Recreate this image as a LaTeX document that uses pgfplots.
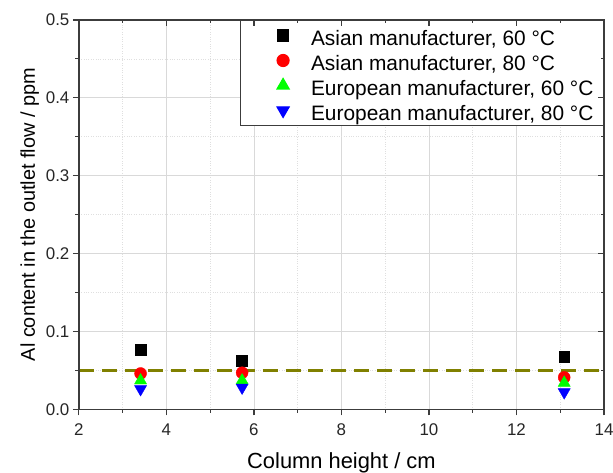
\documentclass[border=0pt]{standalone}
\usepackage{pgfplots}
\pgfplotsset{compat=1.18}
\usepackage{fontspec}
\setmainfont{Liberation Sans}
\usetikzlibrary{calc}
\definecolor{olivedash}{RGB}{128,128,0}
\definecolor{axisgray}{RGB}{60,60,60}
\pgfplotstableread{
x y
3.41 0.077
5.73 0.063
13.09 0.068
}\asiansixty
\pgfplotstableread{
x y
3.41 0.046
5.73 0.047
13.09 0.041
}\asianeighty
\pgfplotstableread{
x y
3.41 0.037
5.73 0.037
13.09 0.034
}\eurosixty
\pgfplotstableread{
x y
3.41 0.026
5.73 0.028
13.09 0.022
}\euroeighty
\begin{document}
\begin{tikzpicture}
\pgfplotsset{
  common/.style={
    scale only axis, width=526bp, height=390bp,
    xmin=2, xmax=14, ymin=0, ymax=0.5,
    xtick={2,4,6,8,10,12,14}, ytick={0,0.1,0.2,0.3,0.4,0.5},
    minor x tick num=1, minor y tick num=1,
    major tick length=6bp, minor tick length=3.5bp,
    every tick/.style={line width=1.2bp, axisgray},
    axis line style={line width=1.4bp, axisgray},
  }
}
\begin{axis}[common,
  tick align=outside, tick pos=left,
  grid=both,
  major grid style={gray!30, line width=0.7bp},
  minor grid style={gray!25, dotted, line width=0.7bp},
  /pgf/number format/assume math mode=true,
  yticklabel style={/pgf/number format/.cd, fixed, fixed zerofill, precision=1},
  ticklabel style={font=\fontsize{17}{20}\selectfont, text=black!85},
  xticklabel style={yshift=-5bp},
  xlabel style={font=\fontsize{22}{26}\selectfont, yshift=-10bp},
  ylabel style={font=\fontsize{20}{24}\selectfont},
  xlabel={Column height / cm},
  ylabel={Al content in the outlet flow / ppm},
  legend cell align=left,
  legend style={at={(1,1)}, anchor=north east, draw=axisgray, line width=1.2bp,
    font=\fontsize{21}{25}\selectfont, inner xsep=5bp, inner ysep=2.5bp,
    nodes={text height=20bp, text depth=0bp, inner ysep=2.5bp, inner xsep=5bp}},
  legend image code/.code={\path[draw=none,fill=none] (-38bp,-5bp) rectangle (23bp,5bp); \draw[#1] plot coordinates {(0bp,0bp)};},
]
\addplot[olivedash, line width=2.6bp, dash pattern=on 15bp off 8bp, forget plot] coordinates {(2,0.05) (14,0.05)};
\addplot[only marks, mark=square*, mark size=5.5bp, black, mark options={draw=black, fill=black}] table {\asiansixty};
\addlegendentry{Asian manufacturer, 60 °C}
\addplot[only marks, mark=*, mark size=6bp, red, mark options={draw=red, fill=red}] table {\asianeighty};
\addlegendentry{Asian manufacturer, 80 °C}
\addplot[only marks, mark=triangle*, mark size=7bp, green, mark options={draw=green, fill=green}] table {\eurosixty};
\addlegendentry{European manufacturer, 60 °C}
\addplot[only marks, mark=triangle*, mark size=7bp, blue, mark options={draw=blue, fill=blue, rotate=180}] table {\euroeighty};
\addlegendentry{European manufacturer, 80 °C}
\end{axis}
\begin{axis}[common,
  tick align=inside, tick pos=right,
  xticklabels={}, yticklabels={},
]
\end{axis}
\pgfresetboundingbox
\path ($(current axis.south west)+(-79bp,-63bp)$) rectangle ($(current axis.north east)+(9bp,20bp)$);
\end{tikzpicture}
\end{document}
